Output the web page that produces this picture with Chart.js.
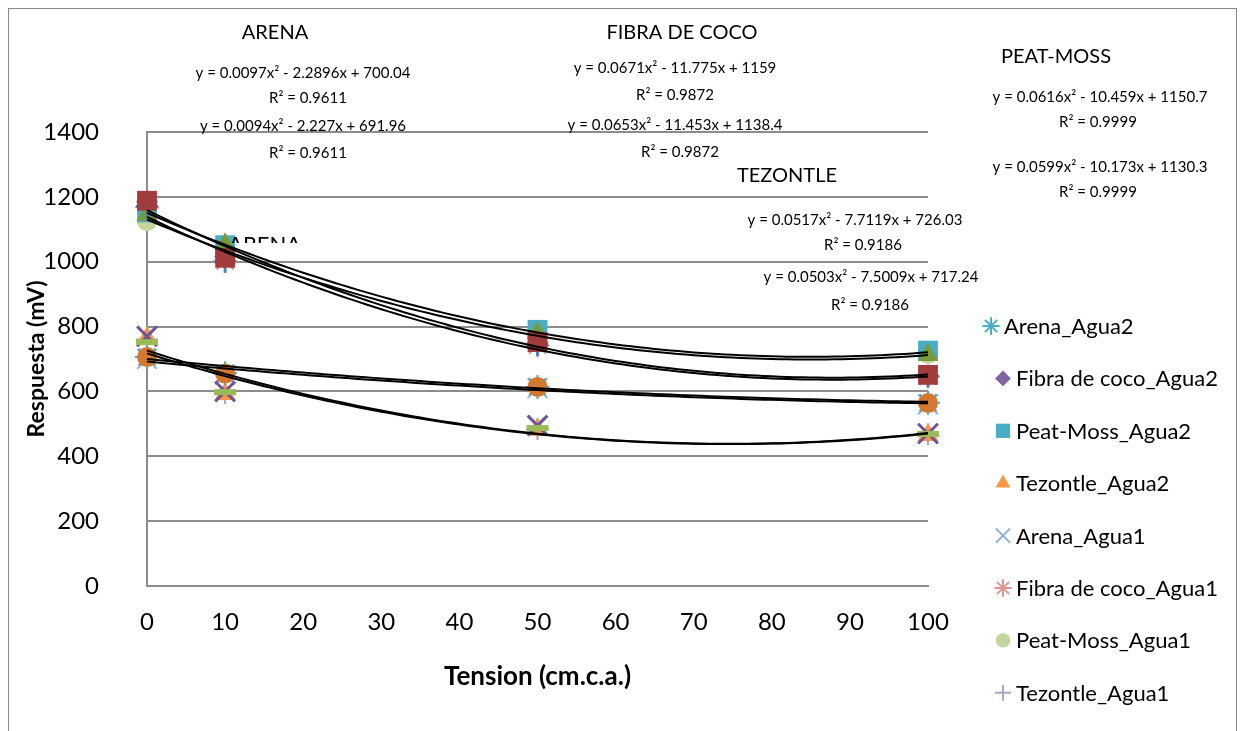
<!DOCTYPE html>
<html>
<head>
<meta charset="utf-8">
<script src="https://cdn.jsdelivr.net/npm/chart.js@4.4.0/dist/chart.umd.min.js"></script>
<style>
  html, body { margin: 0; padding: 0; background: #fff; }
</style>
</head>
<body>
<canvas id="tensionChart" width="1242" height="731"></canvas>
<script>
// Tension (cm.c.a.) en el eje X
const tension = [0, 10, 50, 100];

// series que aparecen en la leyenda
const arenaAgua2 = [706, 656, 614, 565];
const fibraAgua2 = [1185, 1015, 750, 650];
const peatAgua2 = [1152, 1051, 790, 726];
const tezontleAgua2 = [765, 592, 482, 466];
const arenaAgua1 = [700, 652, 610, 560];
const fibraAgua1 = [1168, 1002, 742, 646];
const peatAgua1 = [1125, 1040, 770, 716];
const tezontleAgua1 = [760, 595, 484, 468];

// series sin entrada en la leyenda
const serieRoja = [1188, 1012, 752, 651];
const serieAzul = [1170, 1000, 743, 647];
const serieVerde = [1145, 1054, 780, 712];
const serieNaranja = [706, 655, 614, 564];
const serieMorada = [770, 600, 495, 470];
const serieGuion = [752, 598, 487, 469];

// coeficientes de las lineas de tendencia polinomicas [a, b, c]
const trendArena = [[0.0097, -2.2896, 700.04], [0.0094, -2.227, 691.96]];
const trendFibra = [[0.0671, -11.775, 1159], [0.0653, -11.453, 1138.4]];
const trendPeat = [[0.0616, -10.459, 1150.7], [0.0599, -10.173, 1130.3]];
const trendTezontle = [[0.0517, -7.7119, 726.03], [0.0503, -7.5009, 717.24]];

const yTicks = [0, 200, 400, 600, 800, 1000, 1200, 1400];
const xTicks = [0, 10, 20, 30, 40, 50, 60, 70, 80, 90, 100];

function pts(values) {
    return tension.map((t, i) => ({ x: t, y: values[i] }));
}

function marker(label, values, style, color, radius, width, order, inLegend) {
    const filled = ['rect', 'rectRot', 'triangle', 'circle'].indexOf(style) >= 0;
    return {
        label: label,
        data: pts(values),
        pointStyle: style,
        pointRadius: radius,
        pointHoverRadius: radius,
        pointBackgroundColor: color,
        pointBorderColor: color,
        pointBorderWidth: filled ? 0 : width,
        showLine: false,
        clip: false,
        order: order,
        inLegend: inLegend,
        legendRadius: radius
    };
}

function trend(coef) {
    const data = [];
    for (let x = 0; x <= 100; x++) {
        data.push({ x: x, y: coef[0] * x * x + coef[1] * x + coef[2] });
    }
    return {
        label: 'trend',
        data: data,
        showLine: true,
        pointRadius: 0,
        borderColor: '#000',
        borderWidth: 2,
        tension: 0,
        clip: false,
        order: 0,
        inLegend: false
    };
}

const datasets = [
    marker('Serie roja', serieRoja, 'rect', '#A03C3B', 14, 0, 1, false),
    marker('Serie azul', serieAzul, 'cross', '#4F81BD', 11, 3, 1, false),
    marker('Serie verde', serieVerde, 'triangle', '#779A3C', 12, 0, 1, false),
    marker('Serie guion', serieGuion, 'line', '#9BBB59', 11, 6, 1, false),
    marker('Serie morada', serieMorada, 'crossRot', '#6E559B', 14, 3, 1, false),
    marker('Serie naranja', serieNaranja, 'circle', '#D2782F', 10, 0, 1, false),

    marker('Arena_Agua2', arenaAgua2, 'star', '#4BACC6', 12, 2, 2, true),
    marker('Fibra de coco_Agua2', fibraAgua2, 'rectRot', '#8064A2', 11, 0, 2, true),
    marker('Peat-Moss_Agua2', peatAgua2, 'rect', '#4BACC6', 14, 0, 2, true),
    marker('Tezontle_Agua2', tezontleAgua2, 'triangle', '#F79646', 12, 0, 2, true),
    marker('Arena_Agua1', arenaAgua1, 'crossRot', '#95B3D7', 14, 2, 2, true),
    marker('Fibra de coco_Agua1', fibraAgua1, 'star', '#D99694', 12, 2, 2, true),
    marker('Peat-Moss_Agua1', peatAgua1, 'circle', '#C3D69B', 10, 0, 2, true),
    marker('Tezontle_Agua1', tezontleAgua1, 'cross', '#B3A2C7', 11, 2, 2, true)
];
[trendArena, trendFibra, trendPeat, trendTezontle].forEach(pair => {
    pair.forEach(c => datasets.push(trend(c)));
});

// textos de las ecuaciones sobre la grafica
const notes = [
    ['ARENA', 275, 33, 20],
    ['y = 0.0097x\u00b2 - 2.2896x + 700.04', 303, 73, 15],
    ['R\u00b2 = 0.9611', 308, 98, 15],
    ['y = 0.0094x\u00b2 - 2.227x + 691.96', 303, 126, 15],
    ['R\u00b2 = 0.9611', 308, 153, 15],
    ['FIBRA DE COCO', 682, 33, 20],
    ['y = 0.0671x\u00b2 - 11.775x + 1159', 675, 68, 15],
    ['R\u00b2 = 0.9872', 675, 95, 15],
    ['y = 0.0653x\u00b2 - 11.453x + 1138.4', 675, 125, 15],
    ['R\u00b2 = 0.9872', 680, 152, 15],
    ['TEZONTLE', 787, 176, 20],
    ['y = 0.0517x\u00b2 - 7.7119x + 726.03', 855, 220, 15],
    ['R\u00b2 = 0.9186', 863, 245, 15],
    ['y = 0.0503x\u00b2 - 7.5009x + 717.24', 871, 277, 15],
    ['R\u00b2 = 0.9186', 870, 305, 15],
    ['PEAT-MOSS', 1056, 57, 20],
    ['y = 0.0616x\u00b2 - 10.459x + 1150.7', 1100, 97, 15],
    ['R\u00b2 = 0.9999', 1098, 122, 15],
    ['y = 0.0599x\u00b2 - 10.173x + 1130.3', 1100, 167, 15],
    ['R\u00b2 = 0.9999', 1098, 192, 15]
];

const FONT = 'Lato, "Open Sans", sans-serif';

const extrasPlugin = {
    id: 'extras',
    beforeDraw(chart) {
        const ctx = chart.ctx;
        ctx.save();
        ctx.fillStyle = '#fff';
        ctx.fillRect(0, 0, chart.width, chart.height);
        ctx.restore();
    },
    afterDraw(chart) {
        const ctx = chart.ctx;
        ctx.save();
        // marco exterior
        ctx.strokeStyle = '#8a8a8a';
        ctx.lineWidth = 1;
        ctx.strokeRect(8.5, 8.5, 1228, 760);

        ctx.fillStyle = '#000';
        ctx.textAlign = 'center';
        ctx.textBaseline = 'middle';
        notes.forEach(n => {
            ctx.font = n[3] + 'px ' + FONT;
            ctx.fillText(n[0], n[1], n[2]);
        });

        // "ARENA" medio tapado
        ctx.save();
        ctx.beginPath();
        ctx.rect(220, 225, 110, 18);
        ctx.clip();
        ctx.font = '22px ' + FONT;
        ctx.textAlign = 'left';
        ctx.fillText('ARENA', 228, 245);
        ctx.restore();

        // leyenda
        ctx.font = '22px ' + FONT;
        ctx.textAlign = 'left';
        let row = 0;
        chart.data.datasets.forEach(ds => {
            if (!ds.inLegend) return;
            const y = 326 + row * 52.4;
            const mx = row === 0 ? 991 : 1003;
            ctx.fillStyle = ds.pointBackgroundColor;
            ctx.strokeStyle = ds.pointBorderColor;
            ctx.lineWidth = ds.pointBorderWidth || 0;
            Chart.helpers.drawPoint(ctx, {
                pointStyle: ds.pointStyle,
                radius: ds.legendRadius * 0.72,
                borderWidth: ds.pointBorderWidth,
                rotation: 0
            }, mx, y);
            ctx.fillStyle = '#000';
            ctx.fillText(ds.label, mx + 13, y + 1);
            row++;
        });
        ctx.restore();
    }
};

new Chart(document.getElementById('tensionChart'), {
    type: 'scatter',
    data: { datasets: datasets },
    options: {
        responsive: false,
        animation: false,
        layout: { padding: { left: 0, top: 132, right: 314, bottom: 0 } },
        plugins: {
            legend: { display: false },
            tooltip: { enabled: false }
        },
        scales: {
            x: {
                type: 'linear',
                min: 0,
                max: 100,
                afterBuildTicks: scale => { scale.ticks = xTicks.map(v => ({ value: v })); },
                afterFit: scale => { scale.height = 145; },
                grid: { display: false, drawTicks: false },
                border: { display: true, color: '#8c8c8c', width: 2 },
                ticks: { color: '#000', padding: 22, font: { family: FONT, size: 24 }, callback: v => String(v) },
                title: {
                    display: true,
                    text: 'Tension (cm.c.a.)',
                    color: '#000',
                    font: { family: FONT, size: 26, weight: 'bold' },
                    padding: { top: 0, bottom: 39 }
                }
            },
            y: {
                type: 'linear',
                min: 0,
                max: 1400,
                afterBuildTicks: scale => { scale.ticks = yTicks.map(v => ({ value: v })); },
                afterFit: scale => { scale.width = 147; },
                grid: { color: '#8c8c8c', lineWidth: 2, drawTicks: false },
                border: { display: true, color: '#8c8c8c', width: 2 },
                ticks: { color: '#000', padding: 48, font: { family: FONT, size: 24 }, callback: v => String(v) },
                title: {
                    display: true,
                    text: 'Respuesta (mV)',
                    color: '#000',
                    font: { family: FONT, size: 23, weight: 'bold' },
                    padding: { top: 23, bottom: 0 }
                }
            }
        }
    },
    plugins: [extrasPlugin]
});
</script>
</body>
</html>
